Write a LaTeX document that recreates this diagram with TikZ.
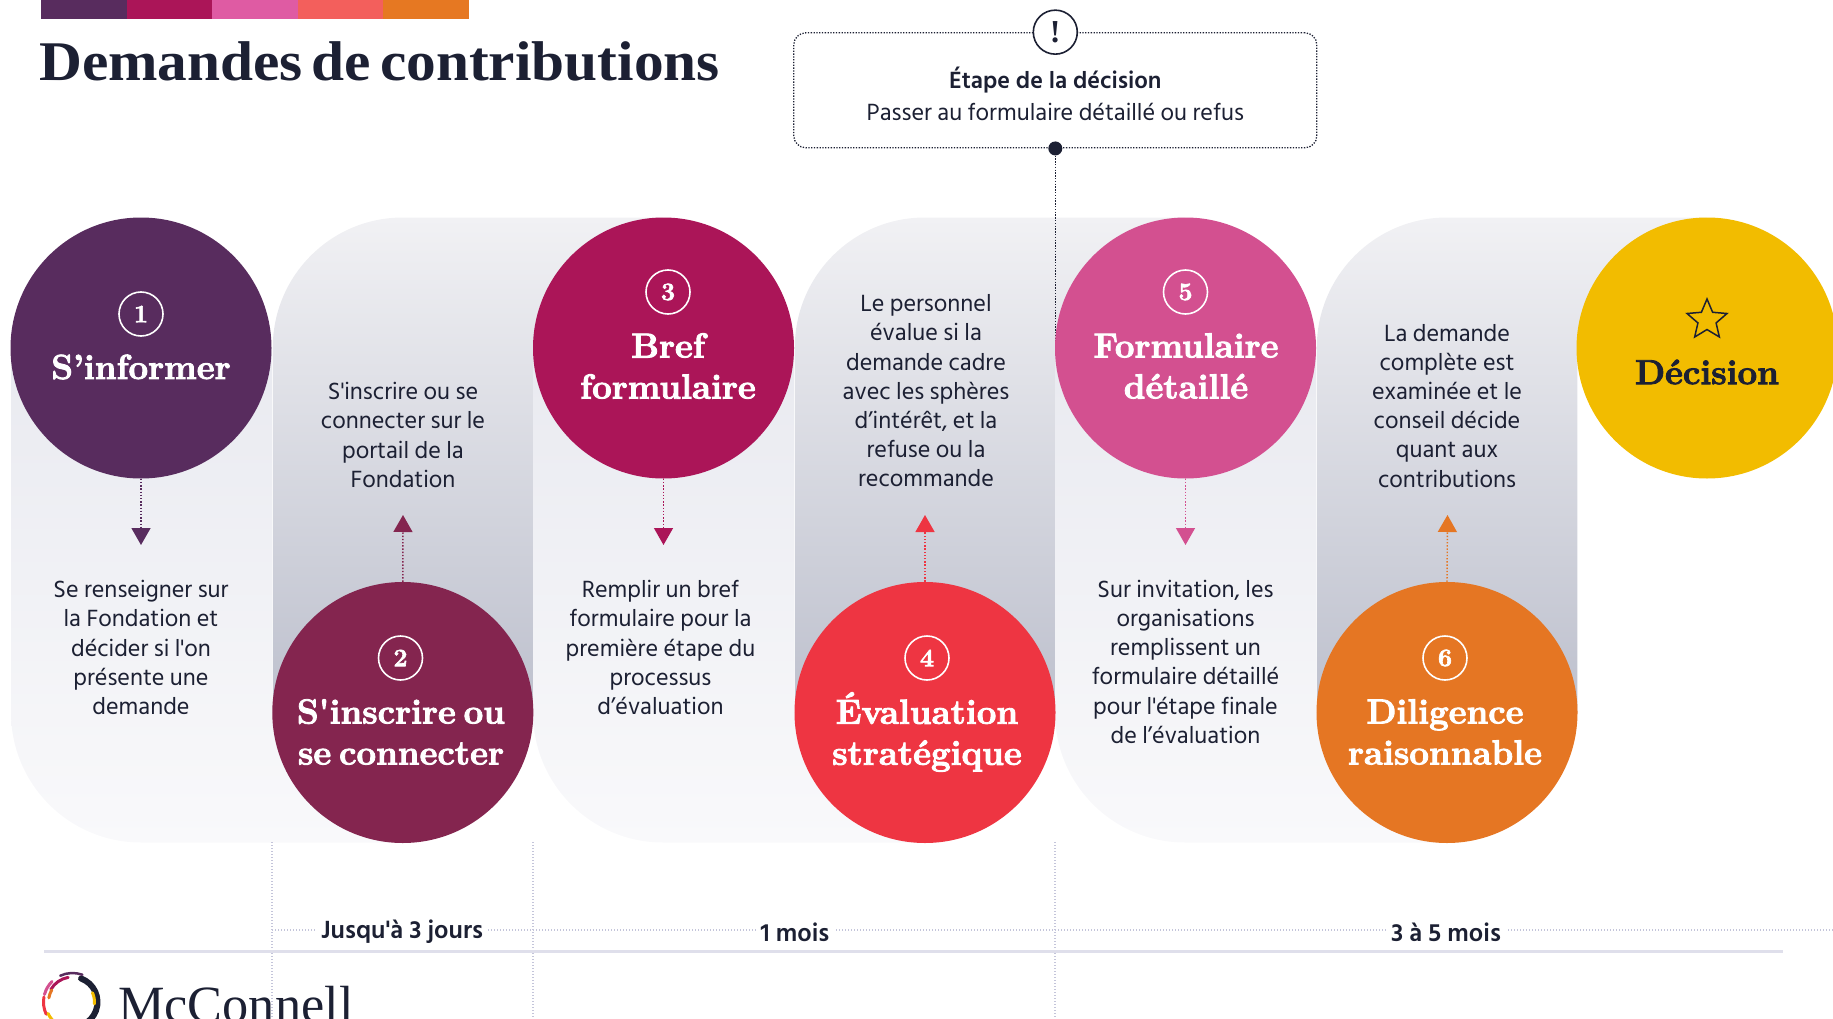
\documentclass[tikz,border=0pt]{standalone}
\usepackage{fontspec}
\setmainfont{Hind Siliguri}[Ligatures=TeXOff]
\newfontfamily\headfont{Liberation Serif}
\newfontfamily\titlefont{Liberation Serif}[FakeStretch=1.06,WordSpace=0.6]
\newfontfamily\stepfont{Latin Modern Roman}[BoldFeatures={FakeBold=2.5},WordSpace=0.6]
\usetikzlibrary{arrows.meta,positioning,shapes.geometric}
\definecolor{ink}{HTML}{1C2033}
\definecolor{cInformer}{HTML}{582C5E}
\definecolor{cInscrire}{HTML}{84254F}
\definecolor{cBref}{HTML}{AB1558}
\definecolor{cEval}{HTML}{EE3542}
\definecolor{cDetail}{HTML}{D35090}
\definecolor{cDiligence}{HTML}{E57623}
\definecolor{cDecision}{HTML}{F2BC00}
\definecolor{lavender}{HTML}{C4C5DA}
\definecolor{lowtop}{HTML}{E9EAF0}
\definecolor{lowbot}{HTML}{F9F9FB}
\definecolor{hightop}{HTML}{F1F1F4}
\definecolor{highbot}{HTML}{BDC0CD}
\tikzset{
	stepcircle/.style={circle,minimum size=261pt,inner sep=0pt},
	stepnum/.style={circle,draw=white,line width=1.6pt,minimum size=44pt,inner sep=0pt,text=white,font=\stepfont\bfseries\fontsize{25}{25}\selectfont},
	steptitle/.style={align=center,text=white,font=\stepfont\bfseries\fontsize{34.8}{41}\selectfont},
	bodytext/.style={align=center,text=ink,font=\fontsize{24.1}{29.2}\selectfont},
	timelabel/.style={fill=white,inner xsep=5pt,inner ysep=1pt,text=ink,font=\bfseries\fontsize{25.5}{29}\selectfont},
	arrowline/.style={dash pattern=on 1.4pt off 1.8pt,line width=1.4pt,-{Triangle[width=19pt,length=17pt]}},
	timeline/.style={lavender,dash pattern=on 1.3pt off 1.7pt,line width=1.3pt},
	boxline/.style={ink,dash pattern=on 1.3pt off 1.5pt,line width=1.3pt}
}
\begin{document}
\begin{tikzpicture}[x=1pt,y=-1pt]
	\path[use as bounding box,clip] (0,0) rectangle (1833,1019);
	% colour bar
	\foreach \n/\col in {0/582C5E,1/AB1558,2/DF5BA3,3/F35F5C,4/E67822} {
		\definecolor{barcol}{HTML}{\col}
		\fill[barcol] (41+\n*85.6,0) rectangle (41+\n*85.6+85.8,19);
	}
	\node[anchor=base west,inner sep=0pt,text=ink,font=\titlefont\bfseries\fontsize{56}{56}\selectfont] (title) at (39,80.5) {Demandes de contributions};
	% bands
	\foreach \x in {0,522,1044} {
		\shade[top color=lowtop,bottom color=lowbot]
			(\x+11,347) [rounded corners=130pt] -- (\x+11,842.5) [sharp corners] -- (\x+402,842.5) -- (\x+402,712) -- (\x+272,712) -- (\x+272,347) -- cycle;
		\shade[top color=hightop,bottom color=highbot]
			(\x+272.8,712.5) [rounded corners=130pt] -- (\x+272.8,217.5) [sharp corners] -- (\x+663,217.5) -- (\x+663,347) -- (\x+533.3,347) -- (\x+533.3,712.5) -- cycle;
	}
	% time scale
	\coordinate (tl) at (272,930);
	\coordinate (tr) at (1833,930);
	\draw[timeline] (tl) -- (tr);
	\foreach \x in {272,533,1055} \draw[timeline] (\x,842) -- (\x,1019);
	\coordinate (rl) at (44,951.7);
	\coordinate (rr) at (1783,951.7);
	\draw[lavender!55!white,line width=2.6pt] (rl) -- (rr);
	\node[timelabel] (t1) at (402,931.3) {Jusqu'à 3 jours};
	\node[timelabel] (t2) at (795,932) {1 mois};
	\node[timelabel] (t3) at (1446,932) {3 à 5 mois};
	% decision box
	\node[boxline,draw,rounded corners=12pt,minimum width=523pt,minimum height=115pt] (decbox) at (1055.3,90.3) {};
	\node[bodytext] (dectext) at (1055.3,94) {\textbf{Étape de la décision}\\[3pt]Passer au formulaire détaillé ou refus};
	\node[circle,draw=ink,fill=white,line width=1.6pt,minimum size=44pt,inner sep=0pt,text=ink,font=\headfont\bfseries\fontsize{32}{32}\selectfont] (decmark) at (decbox.north) {!};
	\node[circle,fill=ink,minimum size=14pt,inner sep=0pt] (decdot) at (decbox.south) {};
	\coordinate (decfoot) at (1055.3,357);
	\draw[boxline] (decdot) -- (decfoot);
	% circles
	\node[stepcircle,fill=cInformer] (c1) at (141,348) {};
	\node[stepcircle,fill=cInscrire] (c2) at (402.8,712.5) {};
	\node[stepcircle,fill=cBref] (c3) at (663.5,348) {};
	\node[stepcircle,fill=cEval] (c4) at (925,712.5) {};
	\node[stepcircle,fill=cDetail] (c5) at (1185.5,348) {};
	\node[stepcircle,fill=cDiligence] (c6) at (1447,712.5) {};
	\node[stepcircle,fill=cDecision] (c7) at (1707,348) {};
	\node[stepnum] (n1) at (141,314) {1};
	\node[stepnum] (n2) at (400.5,658) {2};
	\node[stepnum] (n3) at (668,292) {3};
	\node[stepnum] (n4) at (927,658) {4};
	\node[stepnum] (n5) at (1185.5,292) {5};
	\node[stepnum] (n6) at (1445,658) {6};
	\node[star,star points=5,star point ratio=2.2,draw=ink,line width=1.5pt,minimum size=42pt,inner sep=0pt] (n7) at (1707,320) {};
	\node[steptitle] (s1) at (141,367) {S’informer};
	\node[steptitle] (s2) at (401,732) {S'inscrire ou\\se connecter};
	\node[steptitle] (s3) at (668,366) {Bref\\formulaire};
	\node[steptitle] (s4) at (927,732) {Évaluation\\stratégique};
	\node[steptitle] (s5) at (1186,366) {Formulaire\\détaillé};
	\node[steptitle] (s6) at (1445,732) {Diligence\\raisonnable};
	\node[steptitle,text=ink] (s7) at (1707,372) {Décision};
	% step texts
	\node[bodytext] (b1) at (141,647.6) {Se renseigner sur\\la Fondation et\\décider si l'on\\présente une\\demande};
	\node[bodytext] (b2) at (403,435) {S'inscrire ou se\\connecter sur le\\portail de la\\Fondation};
	\node[bodytext] (b3) at (660.5,647.6) {Remplir un bref\\formulaire pour la\\première étape du\\processus\\d’évaluation};
	\node[bodytext] (b4) at (926,391) {Le personnel\\évalue si la\\demande cadre\\avec les sphères\\d’intérêt, et la\\refuse ou la\\recommande};
	\node[bodytext] (b5) at (1185.5,661.7) {Sur invitation, les\\organisations\\remplissent un\\formulaire détaillé\\pour l'étape finale\\de l’évaluation};
	\node[bodytext] (b6) at (1447,405.7) {La demande\\complète est\\examinée et le\\conseil décide\\quant aux\\contributions};
	% arrows
	\foreach \from/\tx/\col in {c1/141/cInformer,c3/663.5/cBref,c5/1185.5/cDetail} {
		\coordinate (tip) at (\tx,545);
		\draw[arrowline,\col] (\from.south) -- (tip);
	}
	\foreach \from/\tx/\col in {c2/403/cInscrire,c4/925/cEval,c6/1447.5/cDiligence} {
		\coordinate (tip) at (\tx,515);
		\draw[arrowline,\col] (\from.north) -- (tip);
	}
	% logo
	\coordinate (logo) at (72.5,1002);
	\foreach \a/\b/\r/\w/\col in {-70/65/25/6/ink,-115/-70/29/2.5/cInformer,-150/-100/25/3/cBref,-165/-135/29/3/cDetail,-170/-150/24/3/cDiligence,-205/-170/29/3/cEval,-240/-205/27/3/cDecision,-25/5/22/3/cDecision}
		\draw[\col,line width=\w pt,line cap=round] ([shift={(\a:\r)}]logo) arc[start angle=\a,end angle=\b,radius=\r];
	\node[anchor=base west,inner sep=0pt,text=ink,font=\headfont\fontsize{52.3}{52.3}\selectfont] (logotext) at (118,1022) {McConnell};
\end{tikzpicture}
\end{document}
